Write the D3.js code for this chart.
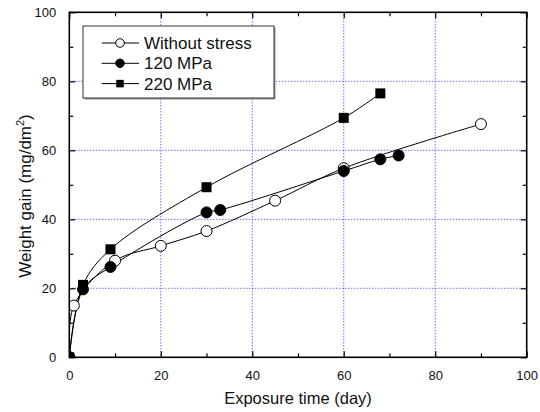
<!DOCTYPE html>
<html>
<head>
<meta charset="utf-8">
<script src="https://cdn.jsdelivr.net/npm/d3@7/dist/d3.min.js"></script>
<style>
  html, body { margin: 0; padding: 0; background: #fff; }
  svg { display: block; font-family: "Liberation Sans", Arial, sans-serif; }
</style>
</head>
<body>
<svg id="chart" width="540" height="412"></svg>
<script>
// Weight gain vs. exposure time for three stress levels
const seriesNames = ["Without stress", "120 MPa", "220 MPa"];

const timeNoStress = [0, 1, 10, 20, 30, 45, 60, 90];
const gainNoStress = [0, 15.0, 28.0, 32.3, 36.6, 45.4, 54.8, 67.6];

const time120 = [0, 3, 9, 30, 33, 60, 68, 72];
const gain120 = [0, 19.7, 26.2, 42.0, 42.7, 54.0, 57.4, 58.5];

const time220 = [0, 3, 9, 30, 60, 68];
const gain220 = [0, 21.0, 31.3, 49.3, 69.4, 76.5];

const xTicks = [0, 20, 40, 60, 80, 100];
const yTicks = [0, 20, 40, 60, 80, 100];
const xMinorTicks = [10, 30, 50, 70, 90];
const yMinorTicks = [10, 30, 50, 70, 90];
const xTitle = "Exposure time (day)";
const yTitle = "Weight gain (mg/dm";

const markers = ["openCircle", "filledCircle", "filledSquare"];

const series = [
  { name: seriesNames[0], marker: markers[0], pts: timeNoStress.map((t, i) => [t, gainNoStress[i]]) },
  { name: seriesNames[1], marker: markers[1], pts: time120.map((t, i) => [t, gain120[i]]) },
  { name: seriesNames[2], marker: markers[2], pts: time220.map((t, i) => [t, gain220[i]]) }
];

const svg = d3.select("#chart");
const plot = { left: 69.3, right: 526.7, top: 12.3, bottom: 357.3 };

const x = d3.scaleLinear().domain([0, 100]).range([plot.left, plot.right]);
const y = d3.scaleLinear().domain([0, 100]).range([plot.bottom, plot.top]);

svg.append("defs").append("clipPath").attr("id", "plotClip")
  .append("rect")
  .attr("x", plot.left).attr("y", plot.top)
  .attr("width", plot.right - plot.left).attr("height", plot.bottom - plot.top);

// dotted grid lines
const grid = svg.append("g");
grid.selectAll("line.vg").data(xTicks.slice(1, -1)).join("line")
  .attr("x1", d => x(d)).attr("x2", d => x(d))
  .attr("y1", plot.top).attr("y2", plot.bottom)
  .attr("stroke", "#2b2bff").attr("stroke-width", 1).attr("stroke-dasharray", "1,2");
grid.selectAll("line.hg").data(yTicks.slice(1, -1)).join("line")
  .attr("x1", plot.left).attr("x2", plot.right)
  .attr("y1", d => y(d)).attr("y2", d => y(d))
  .attr("stroke", "#2b2bff").attr("stroke-width", 1).attr("stroke-dasharray", "1,2");

// axes with inward ticks on all four sides
function styleAxis(g) {
  g.select(".domain").remove();
  g.selectAll(".tick line").attr("stroke", "#000").attr("stroke-width", 1.2);
  g.selectAll("text").attr("font-size", 13).attr("fill", "#111");
}
const axes = svg.append("g");
axes.append("g").attr("transform", `translate(0,${plot.bottom})`)
  .call(d3.axisBottom(x).tickValues(xTicks).tickSizeInner(-6).tickSizeOuter(0).tickPadding(13).tickFormat(d3.format("d")))
  .call(styleAxis);
axes.append("g").attr("transform", `translate(0,${plot.bottom})`)
  .call(d3.axisBottom(x).tickValues(xMinorTicks).tickSizeInner(-4).tickSizeOuter(0).tickFormat(""))
  .call(styleAxis);
axes.append("g").attr("transform", `translate(0,${plot.top})`)
  .call(d3.axisTop(x).tickValues(xTicks).tickSizeInner(-6).tickSizeOuter(0).tickFormat(""))
  .call(styleAxis);
axes.append("g").attr("transform", `translate(0,${plot.top})`)
  .call(d3.axisTop(x).tickValues(xMinorTicks).tickSizeInner(-4).tickSizeOuter(0).tickFormat(""))
  .call(styleAxis);
axes.append("g").attr("transform", `translate(${plot.left},0)`)
  .call(d3.axisLeft(y).tickValues(yTicks).tickSizeInner(-6).tickSizeOuter(0).tickPadding(13).tickFormat(d3.format("d")))
  .call(styleAxis);
axes.append("g").attr("transform", `translate(${plot.left},0)`)
  .call(d3.axisLeft(y).tickValues(yMinorTicks).tickSizeInner(-4).tickSizeOuter(0).tickFormat(""))
  .call(styleAxis);
axes.append("g").attr("transform", `translate(${plot.right},0)`)
  .call(d3.axisRight(y).tickValues(yTicks).tickSizeInner(-6).tickSizeOuter(0).tickFormat(""))
  .call(styleAxis);
axes.append("g").attr("transform", `translate(${plot.right},0)`)
  .call(d3.axisRight(y).tickValues(yMinorTicks).tickSizeInner(-4).tickSizeOuter(0).tickFormat(""))
  .call(styleAxis);

// series curves and markers
const line = d3.line().x(d => x(d[0])).y(d => y(d[1])).curve(d3.curveCatmullRom.alpha(0.5));
const dataLayer = svg.append("g").attr("clip-path", "url(#plotClip)");

function drawMarker(g, type, cx, cy, size) {
  if (type === "filledSquare") {
    g.append("rect").attr("x", cx - size / 2).attr("y", cy - size / 2)
      .attr("width", size).attr("height", size).attr("fill", "#000");
  } else {
    g.append("circle").attr("cx", cx).attr("cy", cy).attr("r", size / 2)
      .attr("fill", type === "openCircle" ? "#fff" : "#000")
      .attr("stroke", "#000").attr("stroke-width", 1);
  }
}

series.forEach(s => {
  dataLayer.append("path").datum(s.pts)
    .attr("d", line).attr("fill", "none").attr("stroke", "#000").attr("stroke-width", 1);
});
series.forEach(s => {
  const g = dataLayer.append("g");
  s.pts.forEach(p => drawMarker(g, s.marker, x(p[0]), y(p[1]), s.marker === "filledSquare" ? 10 : 11));
});

// frame
svg.append("rect")
  .attr("x", plot.left).attr("y", plot.top)
  .attr("width", plot.right - plot.left).attr("height", plot.bottom - plot.top)
  .attr("fill", "none").attr("stroke", "#000").attr("stroke-width", 1.6);

// axis titles
svg.append("text")
  .attr("x", x(50)).attr("y", 404)
  .attr("text-anchor", "middle").attr("font-size", 16.5).attr("fill", "#111")
  .text(xTitle);

const yt = svg.append("text")
  .attr("transform", "translate(31,196) rotate(-90)")
  .attr("text-anchor", "middle").attr("font-size", 17).attr("fill", "#111");
yt.append("tspan").text(yTitle);
yt.append("tspan").attr("font-size", 11).attr("dy", -7).text("2");
yt.append("tspan").attr("dy", 7).text(")");

// legend
const legend = svg.append("g");
legend.append("rect").attr("x", 84.5).attr("y", 27.5).attr("width", 191).attr("height", 72)
  .attr("fill", "#999");
legend.append("rect").attr("x", 83).attr("y", 26).attr("width", 191).attr("height", 72)
  .attr("fill", "#fff").attr("stroke", "#333").attr("stroke-width", 1);
series.forEach((s, i) => {
  const ly = 43 + i * 20.3;
  legend.append("line").attr("x1", 101.7).attr("x2", 139).attr("y1", ly).attr("y2", ly)
    .attr("stroke", "#000").attr("stroke-width", 1);
  drawMarker(legend, s.marker, 120, ly, s.marker === "filledSquare" ? 7.5 : 8.5);
  legend.append("text").attr("x", 144).attr("y", ly + 6)
    .attr("font-size", 17).attr("fill", "#111").text(s.name);
});
</script>
</body>
</html>
